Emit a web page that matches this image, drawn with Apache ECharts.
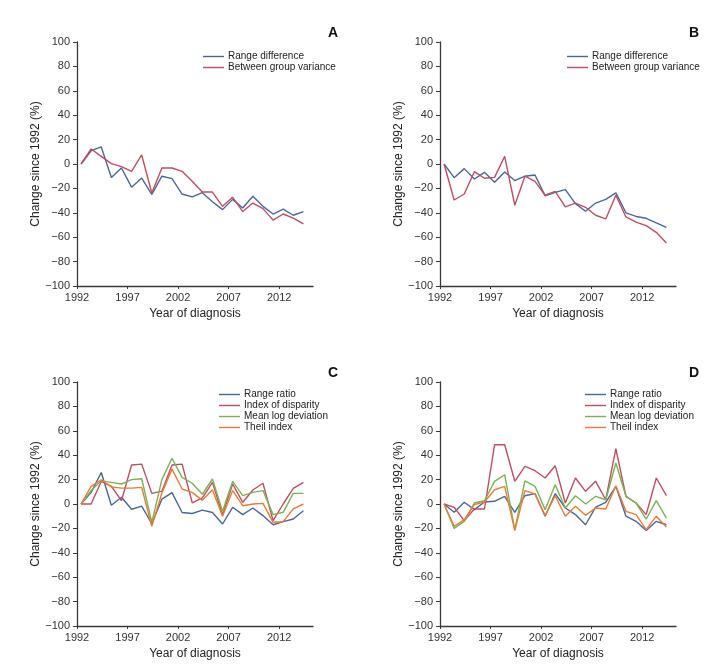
<!DOCTYPE html>
<html>
<head>
<meta charset="utf-8">
<script src="https://cdn.jsdelivr.net/npm/echarts@6/dist/echarts.min.js"></script>
<style>
  html, body { margin: 0; padding: 0; background: #fff; }
  #chart { width: 720px; height: 664px; }
</style>
</head>
<body>
<div id="chart"></div>
<script>
const years = [1992, 1993, 1994, 1995, 1996, 1997, 1998, 1999, 2000, 2001, 2002, 2003,
  2004, 2005, 2006, 2007, 2008, 2009, 2010, 2011, 2012, 2013, 2014]
const yearTicks = [1992, 1997, 2002, 2007, 2012]

// panel A
const rangeDiffA = [0, 10.9, 14, -11, -3.3, -19, -11.5, -25, -10, -12, -24.6, -27, -23.5,
  -31, -37.4, -29, -36, -26.5, -34.7, -41, -37, -42, -39]
const betweenVarA = [0, 12.3, 6.3, 0.3, -2.2, -6, 7.4, -23.8, -3.3, -3.3, -6, -14.2, -23,
  -23, -34.7, -27.3, -39, -32, -36.6, -46, -41, -44.3, -49]

// panel B
const rangeDiffB = [0, -11.2, -3.8, -12.3, -6.8, -15, -6.5, -13.6, -10, -9, -26, -23.2, -21,
  -32.5, -38.7, -32, -29, -23.7, -40, -43, -44.5, -48.3, -52]
const betweenVarB = [0, -29.5, -24.6, -6.3, -11.7, -11, 6.3, -33.8, -10, -14.2, -25.6, -22.4,
  -35.2, -32, -35.5, -42, -45, -25.6, -43.4, -47.7, -50.5, -56, -64.7]

// panel C
const rangeRatioC = [0, 9.5, 25.8, -1, 5.5, -4.3, -1.8, -16.2, 4, 9.3, -7, -7.8, -5, -7,
  -16.4, -2.7, -8.7, -3.3, -9.5, -17, -14.5, -12.3, -5.5]
const disparityC = [0, 0, 18.5, 14.5, 2.7, 32, 32.7, 8.7, 10.5, 32, 32.7, 1, 5, 17.7,
  -9, 16.4, 1.4, 11.5, 17, -13.6, 0, 12.8, 17.7]
const mldC = [0, 11, 19, 17.7, 16.4, 20, 20.7, -15, 20, 37.5, 21.8, 17, 8, 20.5,
  -6, 18.5, 6.8, 9.5, 11, -8.7, -6.8, 8.7, 8.7]
const theilC = [0, 14.5, 19.9, 14, 13, 13, 13.6, -18.3, 9, 28.6, 12.3, 9.5, 3, 11.7,
  -10, 11, -1.4, 0, 0.5, -15, -14.5, -4, 0]

// panel D
const rangeRatioD = [0, -6.8, 1.4, -4.6, 1.6, 2.2, 6.3, -6.8, 6.8, 8.5, -10, 8.5, -3.3, -8.7,
  -17, -2.5, 1.4, 14.5, -10, -14.2, -21.8, -14.2, -17]
const disparityD = [0, -2.7, -13.6, -4.1, -4.1, 48.6, 48.6, 18.6, 30.8, 27.3, 21.3, 31.4, 0.8,
  21.3, 10.4, 18.6, 3.5, 45.3, 6.3, 0.8, -8.7, 21.3, 6.8]
const mldD = [0, -20, -14.2, 0.8, 2.7, 18.6, 24, -21, 19, 14.5, -4.6, 15.8, -3.3, 6.8, 0,
  6.3, 3.5, 33.6, 6.3, 0.8, -12.3, 2.7, -11.5]
const theilD = [0, -18.3, -12.8, -0.5, 1.6, 11.7, 14.5, -21.8, 10.9, 8.2, -9.3, 6.8, -10, -1.9,
  -9.3, -3.3, -4.1, 15, -6, -8.7, -21, -10, -18.8]

const BLUE = "#4a679a"
const RED = "#bf4f60"
const GREEN = "#78b356"
const ORANGE = "#ee7b33"
const FONT = "'Liberation Sans Narrow', 'Arial Narrow', 'Liberation Sans', sans-serif"
const AXIS = "#3a3a3a"

const pair = (vals) => years.map((y, i) => [y, vals[i]])
const minus = (v) => (v < 0 ? "\u2212" + -v : "" + v)

// grid boxes: [left, top]
const boxes = [
  [77, 42],
  [440, 42],
  [77, 382],
  [440, 382],
]
const W = 236
const H = 244

const grids = boxes.map(([l, t]) => ({ left: l, top: t, width: W, height: H }))

const xAxes = boxes.map((b, i) => ({
  type: "value",
  gridIndex: i,
  min: 1991.6,
  max: 2014.95,
  name: "Year of diagnosis",
  nameLocation: "middle",
  nameGap: 22,
  nameTextStyle: { fontFamily: FONT, fontSize: 12, color: "#222", verticalAlign: "top" },
  axisLine: { onZero: false, lineStyle: { color: AXIS, width: 1.3 } },
  axisTick: {
    show: true,
    length: 3,
    customValues: yearTicks.map((y) => y - 0.4),
    lineStyle: { color: AXIS },
  },
  axisLabel: {
    customValues: yearTicks.map((y) => y - 0.4),
    formatter: (v) => Math.round(v),
    fontFamily: FONT,
    fontSize: 11,
    color: "#333",
    margin: 6,
  },
  splitLine: { show: false },
}))

const yAxes = boxes.map((b, i) => ({
  type: "value",
  gridIndex: i,
  min: -100,
  max: 100,
  interval: 20,
  name: "Change since 1992 (%)",
  nameLocation: "middle",
  nameGap: 27,
  nameTextStyle: { fontFamily: FONT, fontSize: 12, color: "#222" },
  axisLine: { show: true, onZero: false, lineStyle: { color: AXIS, width: 1.3 } },
  axisTick: { show: true, length: 4, lineStyle: { color: AXIS } },
  axisLabel: {
    formatter: minus,
    fontFamily: FONT,
    fontSize: 11,
    color: "#333",
    margin: 7,
  },
  splitLine: { show: false },
}))

const line = (name, vals, color, idx) => ({
  name,
  type: "line",
  xAxisIndex: idx,
  yAxisIndex: idx,
  data: pair(vals),
  symbol: "none",
  lineStyle: { color, width: 1.4 },
  itemStyle: { color },
  animation: false,
})

const series = [
  line("Range difference", rangeDiffA, BLUE, 0),
  line("Between group variance", betweenVarA, RED, 0),
  line("Range difference", rangeDiffB, BLUE, 1),
  line("Between group variance", betweenVarB, RED, 1),
  line("Range ratio", rangeRatioC, BLUE, 2),
  line("Index of disparity", disparityC, RED, 2),
  line("Mean log deviation", mldC, GREEN, 2),
  line("Theil index", theilC, ORANGE, 2),
  line("Range ratio", rangeRatioD, BLUE, 3),
  line("Index of disparity", disparityD, RED, 3),
  line("Mean log deviation", mldD, GREEN, 3),
  line("Theil index", theilD, ORANGE, 3),
]

const legendBase = {
  orient: "vertical",
  padding: 0,
  itemGap: 0,
  itemWidth: 21,
  itemHeight: 1.4,
  icon: "rect",
  selectedMode: false,
  textStyle: { fontFamily: FONT, fontSize: 10, lineHeight: 11, color: "#222", padding: [0, 0, 0, -1] },
}
const legends = [
  { ...legendBase, left: 203, top: 51, data: ["Range difference", "Between group variance"] },
  { ...legendBase, left: 567, top: 51, data: ["Range difference", "Between group variance"] },
  { ...legendBase, left: 219, top: 389,
    data: ["Range ratio", "Index of disparity", "Mean log deviation", "Theil index"] },
  { ...legendBase, left: 585, top: 389,
    data: ["Range ratio", "Index of disparity", "Mean log deviation", "Theil index"] },
]

const letters = [["A", 333, 33], ["B", 694, 33], ["C", 333, 373], ["D", 694, 373]]

const chart = echarts.init(document.getElementById("chart"))
chart.setOption({
  backgroundColor: "#fff",
  animation: false,
  grid: grids,
  xAxis: xAxes,
  yAxis: yAxes,
  legend: legends,
  series: series,
  graphic: letters.map(([t, x, y]) => ({
    type: "text",
    left: x - 5,
    top: y - 7,
    style: { text: t, fontFamily: FONT, fontSize: 14, fontWeight: "bold", fill: "#111" },
  })),
})
</script>
</body>
</html>
